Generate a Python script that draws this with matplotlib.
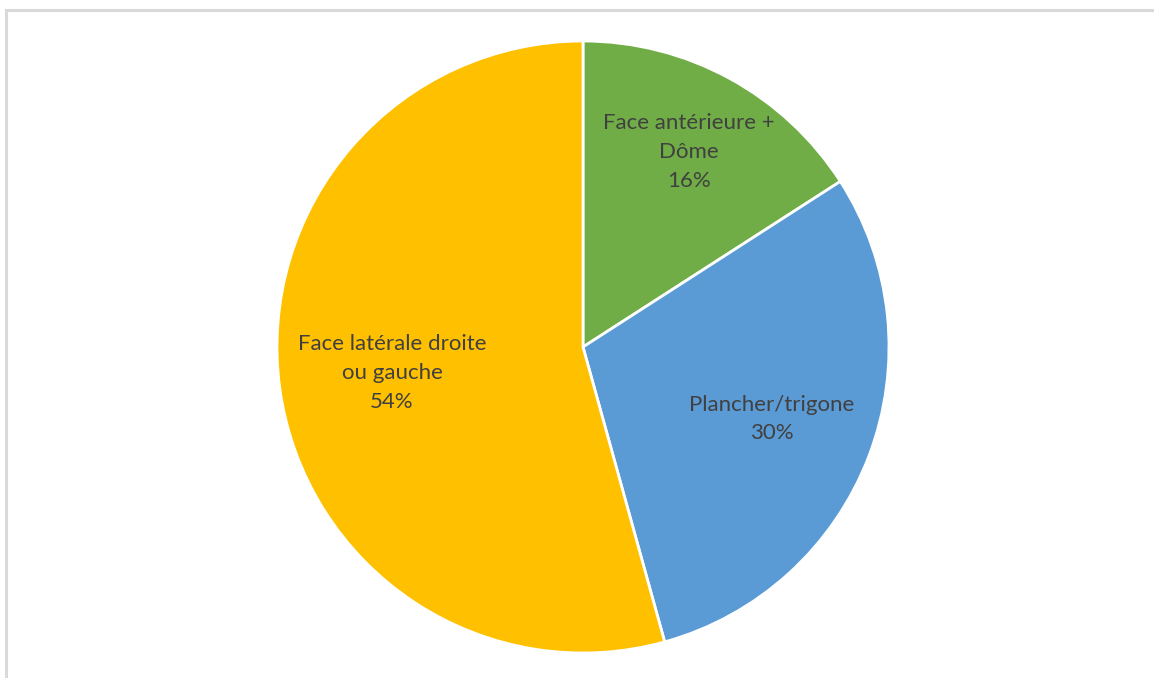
import matplotlib
matplotlib.use('Agg')
import matplotlib.pyplot as plt
import numpy as np
from matplotlib.patches import Rectangle

labels = ['Face antérieure +\nDôme', 'Plancher/trigone', 'Face latérale droite\nou gauche']
values = [15.9, 29.8, 54.3]
colors = ['#70AD47', '#5B9BD5', '#FFC000']
label_dist = [0.725, 0.66, 0.63]

plt.rcParams['font.family'] = ['Lato', 'DejaVu Sans']

W, H = 1154, 678
fig = plt.figure(figsize=(W / 100, H / 100), dpi=100)
fig.patches.append(Rectangle((6 / W, -0.1), 1.2, 0.1 + 668 / H, transform=fig.transFigure,
                             fill=False, edgecolor='#d9d9d9', linewidth=2.2))

R = 306
ax = fig.add_axes([(583 - R) / W, (331 - R) / H, 2 * R / W, 2 * R / H])
wedges, _ = ax.pie(values, colors=colors, startangle=90, counterclock=False,
                   wedgeprops=dict(edgecolor='white', linewidth=2))
total = sum(values)
for w, lab, v, d in zip(wedges, labels, values, label_dist):
    ang = np.deg2rad((w.theta1 + w.theta2) / 2)
    ax.text(d * np.cos(ang), d * np.sin(ang), '{}\n{:.0f}%'.format(lab, 100 * v / total),
            ha='center', va='center', fontsize=16, color='#404040', linespacing=1.55)
ax.set_xlim(-1, 1)
ax.set_ylim(-1, 1)
ax.set_aspect('equal')
ax.axis('off')

fig.savefig('out.png', dpi=100)
